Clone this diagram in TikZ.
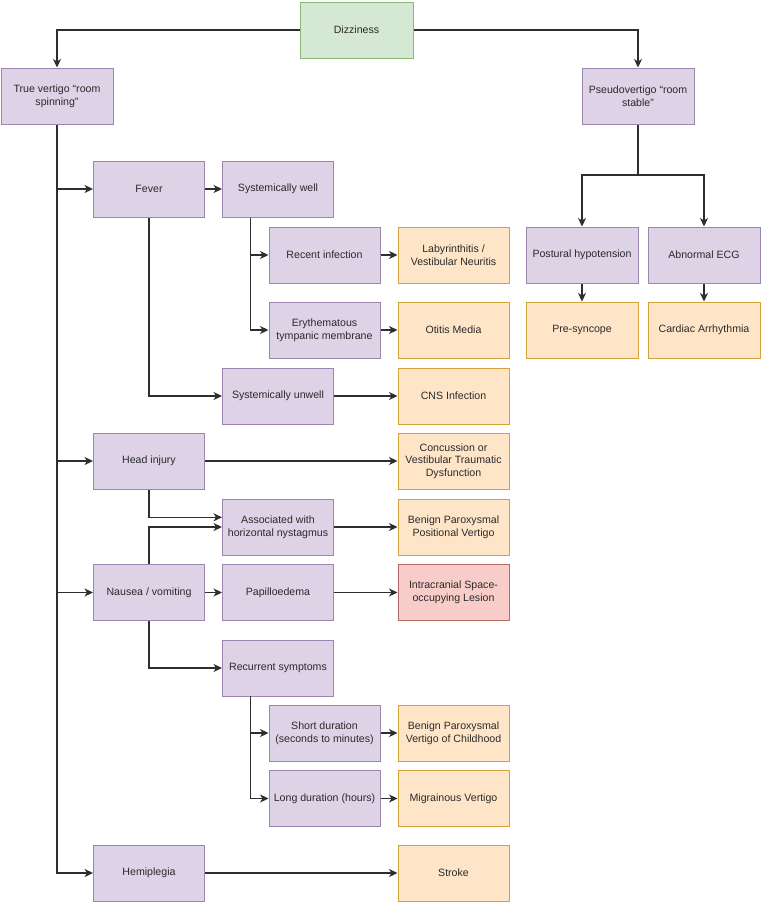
\documentclass[tikz,border=0pt]{standalone}
\usepackage{fontspec}
\setmainfont{Liberation Sans}
\usetikzlibrary{arrows.meta}
\definecolor{pfill}{HTML}{DDD2E6}
\definecolor{pdraw}{HTML}{9C86B0}
\definecolor{gfill}{HTML}{D5E8D4}
\definecolor{gdraw}{HTML}{8DB87A}
\definecolor{ofill}{HTML}{FFE5C8}
\definecolor{odraw}{HTML}{D6A23C}
\definecolor{rfill}{HTML}{F8CCC8}
\definecolor{rdraw}{HTML}{B86A66}
\definecolor{txt}{HTML}{2A2A2A}
\definecolor{ln}{HTML}{2E2E2E}
\begin{document}
\begin{tikzpicture}[x=1pt,y=-1pt,
  box/.style={draw, line width=1pt, minimum width=111pt, minimum height=56pt, inner sep=2pt,
    align=center, text=txt, font=\fontsize{10.6pt}{12.7pt}\selectfont},
  pbox/.style={box, fill=pfill, draw=pdraw},
  gbox/.style={box, fill=gfill, draw=gdraw},
  obox/.style={box, fill=ofill, draw=odraw},
  rbox/.style={box, fill=rfill, draw=rdraw},
  conn/.style={draw=ln, line width=1.1pt},
  arr/.style={conn, -{Stealth[length=8.5pt,width=8pt,inset=2.5pt]}}]
\useasboundingbox (0,0) rectangle (762,902);
\fill[white] (0,0) rectangle (762,902);

\node[gbox, minimum width=113pt] (diz) at (356.5,30) {Dizziness};
\node[pbox, minimum width=112pt] (tv) at (57,96) {True vertigo “room\\spinning”};
\node[pbox, minimum width=112pt] (pv) at (638,96) {Pseudovertigo “room\\stable”};

\node[pbox] (fever) at (149,189) {Fever};
\node[pbox] (sw) at (278,189) {Systemically well};
\node[pbox] (ri) at (324.5,255) {Recent infection};
\node[obox] (lab) at (453.5,255) {Labyrinthitis /\\Vestibular Neuritis};
\node[pbox] (ery) at (324.5,330) {Erythematous\\tympanic membrane};
\node[obox] (om) at (453.5,330) {Otitis Media};
\node[pbox] (su) at (278,396) {Systemically unwell};
\node[obox] (cns) at (453.5,396) {CNS Infection};

\node[pbox, minimum width=112pt] (ph) at (582,255) {Postural hypotension};
\node[pbox, minimum width=112pt] (ecg) at (704,255) {Abnormal ECG};
\node[obox, minimum width=112pt] (pre) at (582,330) {Pre-syncope};
\node[obox, minimum width=112pt] (ca) at (704,330) {Cardiac Arrhythmia};

\node[pbox] (hi) at (149,461) {Head injury};
\node[obox] (conc) at (453.5,461) {Concussion or\\Vestibular Traumatic\\Dysfunction};
\node[pbox] (assoc) at (278,527) {Associated with\\horizontal nystagmus};
\node[obox] (bppv) at (453.5,527) {Benign Paroxysmal\\Positional Vertigo};
\node[pbox] (nv) at (149,592.5) {Nausea / vomiting};
\node[pbox] (pap) at (278,592.5) {Papilloedema};
\node[rbox] (ic) at (453.5,592.5) {Intracranial Space-\\occupying Lesion};
\node[pbox] (rec) at (278,668) {Recurrent symptoms};
\node[pbox] (sd) at (324.5,733) {Short duration\\(seconds to minutes)};
\node[obox] (bpvc) at (453.5,733) {Benign Paroxysmal\\Vertigo of Childhood};
\node[pbox] (ld) at (324.5,798.5) {Long duration (hours)};
\node[obox] (mv) at (453.5,798.5) {Migrainous Vertigo};
\node[pbox] (hem) at (149,873) {Hemiplegia};
\node[obox] (stroke) at (453.5,873) {Stroke};

% top
\draw[arr] (diz.west) -| (tv.north);
\draw[arr] (diz.east) -| (pv.north);

% main trunk
\draw[arr] (tv.south) |- (hem.west);
\draw[arr] (tv.south |- fever.west) -- (fever.west);
\draw[arr] (tv.south |- hi.west) -- (hi.west);
\draw[arr] (tv.south |- nv.west) -- (nv.west);

% fever branch
\draw[arr] (fever.east) -- (sw.west);
\coordinate (swb) at (250.7,217.5);
\draw[arr] (swb) |- (ri.west);
\draw[arr] (swb) |- (ery.west);
\draw[arr] (fever.south) |- (su.west);
\draw[arr] (ri.east) -- (lab.west);
\draw[arr] (ery.east) -- (om.west);
\draw[arr] (su.east) -- (cns.west);

% pseudovertigo
\coordinate (pvj) at (638,175);
\draw[conn] (pv.south) -- (pvj);
\draw[arr] (pvj) -| (ph.north);
\draw[arr] (pvj) -| (ecg.north);
\draw[arr] (ph.south) -- (pre.north);
\draw[arr] (ecg.south) -- (ca.north);

% head injury & nausea
\draw[arr] (hi.east) -- (conc.west);
\draw[arr] (hi.south) |- ([yshift=9.7pt]assoc.west);
\draw[arr] (nv.north) |- (assoc.west);
\draw[arr] (assoc.east) -- (bppv.west);
\draw[arr] (nv.east) -- (pap.west);
\draw[arr] (pap.east) -- (ic.west);
\draw[arr] (nv.south) |- (rec.west);
\coordinate (recb) at (250.7,696);
\draw[arr] (recb) |- (sd.west);
\draw[arr] (recb) |- (ld.west);
\draw[arr] (sd.east) -- (bpvc.west);
\draw[arr] (ld.east) -- (mv.west);
\draw[arr] (hem.east) -- (stroke.west);
\end{tikzpicture}
\end{document}
